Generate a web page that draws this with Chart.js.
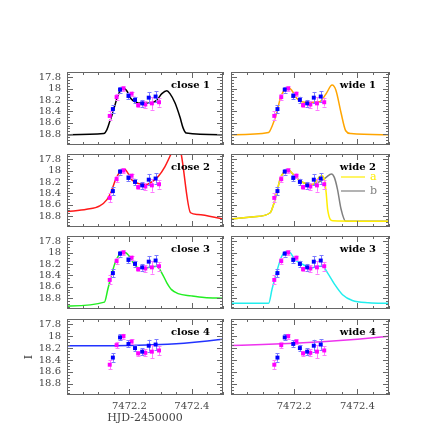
<!DOCTYPE html>
<html><head><meta charset="utf-8">
<script src="https://cdn.jsdelivr.net/npm/chart.js@4.4.1/dist/chart.umd.min.js"></script>
<style>
html,body{margin:0;padding:0;background:#fff;}
#wrap{position:relative;width:436px;height:436px;overflow:hidden;background:#fff;}
canvas{position:absolute;}
</style></head><body><div id="wrap"></div>
<script>
// ---- axis ticks ----
const xTickValues = [7472.2, 7472.4];
const xTickLabels = ['7472.2', '7472.4'];
const yTickValues = [17.8, 18.0, 18.2, 18.4, 18.6, 18.8];
const yTickLabels = ['17.8', '18', '18.2', '18.4', '18.6', '18.8'];

// ---- observations ----
const magentaT = [7472.137, 7472.159, 7472.181, 7472.207, 7472.228, 7472.251, 7472.272, 7472.295];
const magentaI = [18.48, 18.15, 18.00, 18.09, 18.29, 18.28, 18.26, 18.24];
const magentaErr = [0.08, 0.055, 0.04, 0.035, 0.04, 0.06, 0.11, 0.075];
const blueT = [7472.147, 7472.170, 7472.197, 7472.218, 7472.241, 7472.262, 7472.284];
const blueI = [18.36, 18.02, 18.13, 18.20, 18.26, 18.16, 18.14];
const blueErr = [0.07, 0.05, 0.06, 0.055, 0.06, 0.1, 0.09];

// ---- model curves ----
const close1T = [7472.000, 7472.118, 7472.128, 7472.137, 7472.147, 7472.162, 7472.173, 7472.183, 7472.194, 7472.204, 7472.220, 7472.241, 7472.272, 7472.288, 7472.304, 7472.320, 7472.330, 7472.346, 7472.362, 7472.372, 7472.382, 7472.500];
const close1I = [18.81, 18.79, 18.72, 18.58, 18.42, 18.14, 18.02, 18.00, 18.06, 18.17, 18.24, 18.26, 18.25, 18.20, 18.09, 18.04, 18.09, 18.25, 18.50, 18.69, 18.78, 18.81];
const wide1T = [7472.000, 7472.119, 7472.130, 7472.145, 7472.156, 7472.168, 7472.182, 7472.192, 7472.208, 7472.223, 7472.249, 7472.280, 7472.301, 7472.320, 7472.332, 7472.348, 7472.363, 7472.379, 7472.500];
const wide1I = [18.81, 18.77, 18.66, 18.42, 18.17, 18.03, 17.98, 18.03, 18.17, 18.23, 18.24, 18.23, 18.09, 17.94, 18.03, 18.42, 18.74, 18.79, 18.81];
const close2T = [7472.000, 7472.063, 7472.105, 7472.128, 7472.141, 7472.157, 7472.170, 7472.183, 7472.197, 7472.209, 7472.230, 7472.252, 7472.272, 7472.293, 7472.314, 7472.330, 7472.345, 7472.355, 7472.365, 7472.396, 7472.419, 7472.500];
const close2I = [18.72, 18.68, 18.62, 18.51, 18.38, 18.14, 18.02, 17.97, 18.06, 18.17, 18.23, 18.25, 18.20, 18.10, 17.93, 17.75, 17.58, 17.52, 17.68, 18.74, 18.77, 18.85];
const wide2aT = [7472.000, 7472.073, 7472.124, 7472.135, 7472.145, 7472.156, 7472.166, 7472.182, 7472.192, 7472.208, 7472.228, 7472.254, 7472.272, 7472.280, 7472.288, 7472.296, 7472.301, 7472.306, 7472.322, 7472.500];
const wide2aI = [18.85, 18.81, 18.74, 18.59, 18.38, 18.14, 18.04, 17.98, 18.04, 18.13, 18.21, 18.25, 18.17, 18.11, 18.09, 18.17, 18.38, 18.69, 18.88, 18.89];
const wide2bT = [7472.000, 7472.073, 7472.124, 7472.135, 7472.145, 7472.156, 7472.166, 7472.182, 7472.192, 7472.208, 7472.228, 7472.254, 7472.270, 7472.290, 7472.301, 7472.318, 7472.327, 7472.337, 7472.348, 7472.363, 7472.500];
const wide2bI = [18.85, 18.81, 18.74, 18.59, 18.38, 18.14, 18.04, 17.98, 18.04, 18.13, 18.21, 18.25, 18.22, 18.17, 18.12, 18.06, 18.12, 18.33, 18.67, 18.89, 18.89];
const close3T = [7472.000, 7472.120, 7472.131, 7472.141, 7472.157, 7472.173, 7472.186, 7472.199, 7472.215, 7472.230, 7472.252, 7472.272, 7472.288, 7472.304, 7472.320, 7472.335, 7472.356, 7472.398, 7472.440, 7472.500];
const close3I = [18.94, 18.87, 18.64, 18.42, 18.14, 18.01, 18.00, 18.06, 18.20, 18.27, 18.27, 18.25, 18.24, 18.36, 18.53, 18.65, 18.72, 18.76, 18.79, 18.80];
const wide3T = [7472.000, 7472.119, 7472.130, 7472.145, 7472.161, 7472.176, 7472.187, 7472.202, 7472.228, 7472.254, 7472.275, 7472.290, 7472.306, 7472.327, 7472.353, 7472.384, 7472.436, 7472.500];
const wide3I = [18.89, 18.89, 18.64, 18.33, 18.06, 17.98, 18.00, 18.12, 18.21, 18.27, 18.24, 18.24, 18.36, 18.55, 18.74, 18.84, 18.88, 18.89];
const close4T = [7472.00, 7472.10, 7472.20, 7472.30, 7472.35, 7472.40, 7472.45, 7472.50];
const close4I = [18.16, 18.16, 18.155, 18.14, 18.125, 18.105, 18.08, 18.05];
const wide4T = [7472.0, 7472.1, 7472.2, 7472.3, 7472.4, 7472.5];
const wide4I = [18.155, 18.14, 18.12, 18.09, 18.05, 18.00];

const panelLabels = ['close 1', 'wide 1', 'close 2', 'wide 2', 'close 3', 'wide 3', 'close 4', 'wide 4'];
const legendLabels = ['a', 'b'];

// ---- panel styling ----
const panels = [
  {label: panelLabels[0], curves: [[close1T, close1I, '#000000']]},
  {label: panelLabels[1], curves: [[wide1T, wide1I, '#ffa500']]},
  {label: panelLabels[2], curves: [[close2T, close2I, '#ff1a1a']]},
  {label: panelLabels[3], curves: [[wide2aT, wide2aI, '#ffee00'], [wide2bT, wide2bI, '#808080']], legend: true},
  {label: panelLabels[4], curves: [[close3T, close3I, '#22ee22']]},
  {label: panelLabels[5], curves: [[wide3T, wide3I, '#22eeee']]},
  {label: panelLabels[6], curves: [[close4T, close4I, '#2233ff']]},
  {label: panelLabels[7], curves: [[wide4T, wide4I, '#ee33ee']]}
];

const FONT = 'DejaVu Serif';
const TXT = '#444';

const errorBarPlugin = {
  id: 'errbars',
  beforeDatasetDraw(chart, args) {
    if (args.index !== 1) return;
    const {ctx, scales: {x, y}} = chart;
    ctx.save();
    ctx.lineWidth = 1;
    [0, 1].forEach(di => {
      const ds = chart.data.datasets[di];
      ctx.strokeStyle = ds.errColor;
      ctx.beginPath();
      ds.data.forEach((p, i) => {
        const e = ds.errs[i];
        const px = Math.round(x.getPixelForValue(p.x)) + 0.5;
        const y1 = y.getPixelForValue(p.y - e), y2 = y.getPixelForValue(p.y + e);
        ctx.moveTo(px, y1); ctx.lineTo(px, y2);
        ctx.moveTo(px - 2, Math.round(y1) + 0.5); ctx.lineTo(px + 2, Math.round(y1) + 0.5);
        ctx.moveTo(px - 2, Math.round(y2) + 0.5); ctx.lineTo(px + 2, Math.round(y2) + 0.5);
      });
      ctx.stroke();
    });
    ctx.restore();
  }
};

const framePlugin = {
  id: 'frame',
  afterDraw(chart, args, opts) {
    const {ctx, chartArea: a, scales: {x, y}} = chart;
    ctx.save();
    ctx.strokeStyle = '#666';
    ctx.lineWidth = 1;
    ctx.beginPath();
    for (let k = 0; k <= 10; k++) {
      const v = 7472.0 + k * 0.05;
      const len = (k % 4 === 0) ? 6 : 3;
      const px = Math.round(x.getPixelForValue(v)) + 0.5;
      ctx.moveTo(px, a.bottom); ctx.lineTo(px, a.bottom - len);
      ctx.moveTo(px, a.top); ctx.lineTo(px, a.top + len);
    }
    for (let k = 0; k <= 24; k++) {
      const v = 17.75 + k * 0.05;
      const len = ((k - 1) % 4 === 0) ? 6 : 3;
      const py = Math.round(y.getPixelForValue(v)) + 0.5;
      ctx.moveTo(a.left, py); ctx.lineTo(a.left + len, py);
      ctx.moveTo(a.right, py); ctx.lineTo(a.right - len, py);
    }
    ctx.stroke();
    ctx.strokeRect(a.left + 0.5, a.top + 0.5, a.right - a.left - 1, a.bottom - a.top - 1);
    // panel label
    ctx.fillStyle = '#000';
    ctx.font = 'bold 10px "' + FONT + '"';
    ctx.textAlign = 'right';
    ctx.textBaseline = 'alphabetic';
    ctx.fillText(opts.label, a.right - 13, a.top + 16);
    if (opts.legend) {
      const cols = opts.legendColors;
      ctx.font = '11px "' + FONT + '"';
      legendLabels.forEach((lab, i) => {
        const ly = a.top + 23 + i * 14;
        ctx.strokeStyle = cols[i];
        ctx.lineWidth = 1.2;
        ctx.beginPath();
        ctx.moveTo(a.right - 48, ly); ctx.lineTo(a.right - 24, ly);
        ctx.stroke();
        ctx.fillStyle = cols[i];
        ctx.textAlign = 'left';
        ctx.textBaseline = 'middle';
        ctx.fillText(lab, a.right - 19, ly);
      });
    }
    ctx.restore();
  }
};

const rowTops = [69, 151, 233, 316];
const H = 79;
const wrap = document.getElementById('wrap');

panels.forEach((p, idx) => {
  const r = Math.floor(idx / 2), c = idx % 2;
  const showX = r === 3, showY = c === 0;
  const left = c === 0 ? 0 : 227, width = c === 0 ? 227 : 209;
  const top = rowTops[r] - 1, height = r === 3 ? 436 - top : H + 2;
  const cv = document.createElement('canvas');
  cv.width = width; cv.height = height;
  cv.style.left = left + 'px'; cv.style.top = top + 'px';
  cv.style.width = width + 'px'; cv.style.height = height + 'px';
  wrap.appendChild(cv);

  const datasets = [
    {data: blueT.map((t, i) => ({x: t, y: blueI[i]})), errs: blueErr, errColor: '#7b7bff',
     showLine: false, pointStyle: 'rect', pointRadius: 2.8, pointBorderWidth: 0,
     backgroundColor: '#0000ff', borderColor: '#0000ff'},
    {data: magentaT.map((t, i) => ({x: t, y: magentaI[i]})), errs: magentaErr, errColor: '#ff7bff',
     showLine: false, pointStyle: 'rect', pointRadius: 2.8, pointBorderWidth: 0,
     backgroundColor: '#ff00ff', borderColor: '#ff00ff'}
  ];
  p.curves.forEach(cu => {
    datasets.push({data: cu[0].map((t, i) => ({x: t, y: cu[1][i]})), borderColor: cu[2],
      borderWidth: 1.5, pointRadius: 0, fill: false, cubicInterpolationMode: 'monotone', clip: 0});
  });

  const zeroPad = s => { s.paddingTop = 0; s.paddingBottom = 0; s.paddingLeft = 0; s.paddingRight = 0; };

  new Chart(cv, {
    type: 'line',
    data: {datasets},
    options: {
      responsive: false, animation: false, events: [],
      layout: {padding: {top: 1, bottom: r === 3 ? 0 : 1, left: c === 0 ? 0 : 1, right: c === 0 ? 1 : 47}},
      plugins: {
        legend: {display: false}, tooltip: {enabled: false},
        frame: {label: p.label, legend: !!p.legend, legendColors: p.curves.map(cu => cu[2])}
      },
      scales: {
        x: {
          type: 'linear', min: 7472.0, max: 7472.5, display: showX,
          grid: {display: false, drawTicks: false}, border: {display: false},
          afterBuildTicks: s => { s.ticks = xTickValues.map(v => ({value: v})); },
          afterFit: s => { s.height = showX ? 41 : 0; zeroPad(s); },
          ticks: {padding: 5, color: TXT, font: {family: FONT, size: 10}, maxRotation: 0, autoSkip: false,
                  callback: (v, i) => xTickLabels[i]},
          title: {display: r === 3 && c === 0, text: 'HJD-2450000', color: TXT,
                  font: {family: FONT, size: 11}, padding: {top: 0, bottom: 11}}
        },
        y: {
          type: 'linear', min: 17.71, max: 18.99, reverse: true, display: showY,
          grid: {display: false, drawTicks: false}, border: {display: false},
          afterBuildTicks: s => { s.ticks = yTickValues.map(v => ({value: v})); },
          afterFit: s => { s.width = showY ? 67 : 0; zeroPad(s); },
          ticks: {padding: 6, color: TXT, font: {family: FONT, size: 10}, autoSkip: false,
                  callback: (v, i) => yTickLabels[i]},
          title: {display: r === 3 && c === 0, text: 'I', color: TXT,
                  font: {family: FONT, size: 11}, padding: {top: 23, bottom: 0}}
        }
      }
    },
    plugins: [errorBarPlugin, framePlugin]
  });
});
</script></body></html>
